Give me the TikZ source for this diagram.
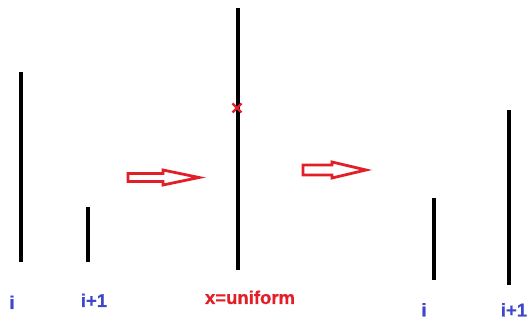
\documentclass[tikz,border=0pt]{standalone}
\usepackage{fontspec}
\setmainfont{Liberation Sans}
\newfontfamily\lblfont[FakeBold=0.8]{Liberation Sans Bold}
\definecolor{lblblue}{RGB}{62,72,200}
\definecolor{arrred}{RGB}{226,30,40}
\begin{document}
\begin{tikzpicture}[x=1pt,y=-1pt,
  bar/.style={line width=3.2pt,black},
  hollowarrow/.style={draw=arrred,line width=2.8pt,fill=white,line join=miter},
  bluelbl/.style={text=lblblue,font=\fontsize{18.5}{20}\lblfont,inner sep=0pt,anchor=base},
  redlbl/.style={text=arrred,font=\fontsize{18.5}{20}\lblfont,inner sep=0pt,anchor=base},
  cross/.style={draw=arrred,line width=2.2pt}]
\useasboundingbox (0,0) rectangle (531,320);
% left pair
\coordinate (a1t) at (21,72);  \coordinate (a1b) at (21,262);
\coordinate (a2t) at (88,207); \coordinate (a2b) at (88,262);
\draw[bar] (a1t) -- (a1b);
\draw[bar] (a2t) -- (a2b);
% middle
\coordinate (mt) at (238,8); \coordinate (mb) at (238,270);
\draw[bar] (mt) -- (mb);
\coordinate (xm) at (237,108);
\draw[cross] ([shift={(-4.5,-4.5)}]xm) -- ([shift={(4.5,4.5)}]xm);
\draw[cross] ([shift={(-4.5,4.5)}]xm) -- ([shift={(4.5,-4.5)}]xm);
% right pair
\coordinate (b1t) at (434,198); \coordinate (b1b) at (434,280);
\coordinate (b2t) at (509,110); \coordinate (b2b) at (509,285);
\draw[bar] (b1t) -- (b1b);
\draw[bar] (b2t) -- (b2b);
% hollow arrows
\draw[hollowarrow] (128,173.5) -- (163,173.5) -- (163,170) -- (199,177.5) -- (163,185) -- (163,181.5) -- (128,181.5) -- cycle;
\draw[hollowarrow] (303,165) -- (332,165) -- (332,162) -- (366,170) -- (332,178) -- (332,175) -- (303,175) -- cycle;
% labels
\node[bluelbl] (li) at (12,309) {i};
\node[bluelbl] (li1) at (94,307) {i+1};
\node[redlbl] (lx) at (250,304) {x=uniform};
\node[bluelbl] (ri) at (424,316.5) {i};
\node[bluelbl] (ri1) at (514,316.5) {i+1};
\end{tikzpicture}
\end{document}
